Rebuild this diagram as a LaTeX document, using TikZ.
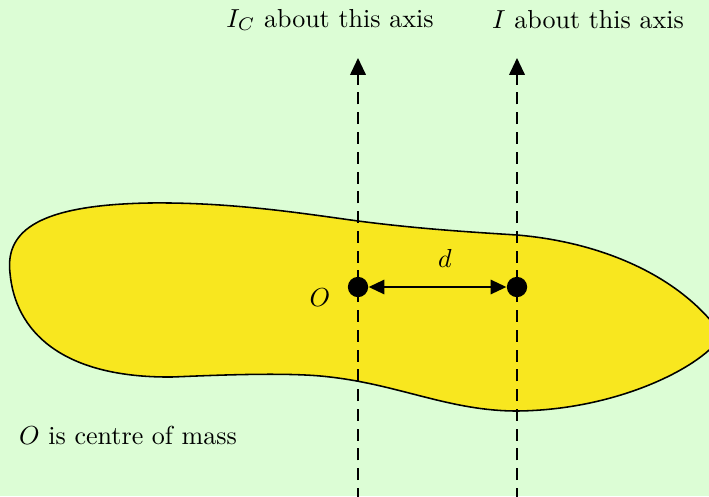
\documentclass[tikz,border=0pt]{standalone}
\usepackage{amsmath,amssymb}
\usepackage{tikz}
\usetikzlibrary{arrows.meta}
\usepackage{xcolor}

\definecolor{bgreen}{RGB}{220,253,213}
\definecolor{body}{RGB}{248,231,31}

\tikzset{
    axisline/.style={line width=0.7pt, dash pattern=on 4.6pt off 3pt, -{Triangle[width=6pt,length=6.5pt]}},
    dot/.style={circle, fill=black, inner sep=0pt, minimum size=7.8pt},
    gap/.style={line width=0.7pt, {Triangle[width=5.5pt,length=6pt]}-{Triangle[width=5.5pt,length=6pt]}}
}

\begin{document}
\begin{tikzpicture}[x=0.0135cm, y=-0.0135cm]
    % background
    \fill[bgreen] (0,0) rectangle (709,496);
    \useasboundingbox (0,0) rectangle (709,496);
    \clip (0,0) rectangle (709,496);

    % the body
    \draw[fill=body, line width=0.6pt] (10,273)
        .. controls (5,230) and (40,205) .. (149,203)
        .. controls (230,202) and (300,213) .. (358,221)
        .. controls (420,229) and (470,232) .. (517,235)
        .. controls (600,242) and (680,275) .. (722,335)
        .. controls (705,365) and (620,410) .. (517,411)
        .. controls (450,411) and (400,385) .. (330,377)
        .. controls (290,372) and (220,375) .. (172,377)
        .. controls (60,378) and (15,330) .. (10,273) -- cycle;

    % the two axes
    \coordinate (Ctop) at (358,58);
    \coordinate (Cbot) at (358,500);
    \coordinate (Atop) at (517,58);
    \coordinate (Abot) at (517,500);
    \draw[axisline] (Cbot) -- (Ctop);
    \draw[axisline] (Abot) -- (Atop);

    % centre of mass and the other point
    \node[dot] (O) at (358,287) {};
    \node[dot] (A) at (517,287) {};
    \draw[gap] (O) -- (A);
    \node (dlabel) at (445,258) {$d$};
    \node (Olabel) at (320,298) {$O$};

    % labels
    \node (ICtext) at (330,20) {$I_C$ about this axis};
    \node (Itext) at (588,20) {$I$ about this axis};
    \node[anchor=west] (note) at (10,435) {$O$ is centre of mass};
\end{tikzpicture}
\end{document}
